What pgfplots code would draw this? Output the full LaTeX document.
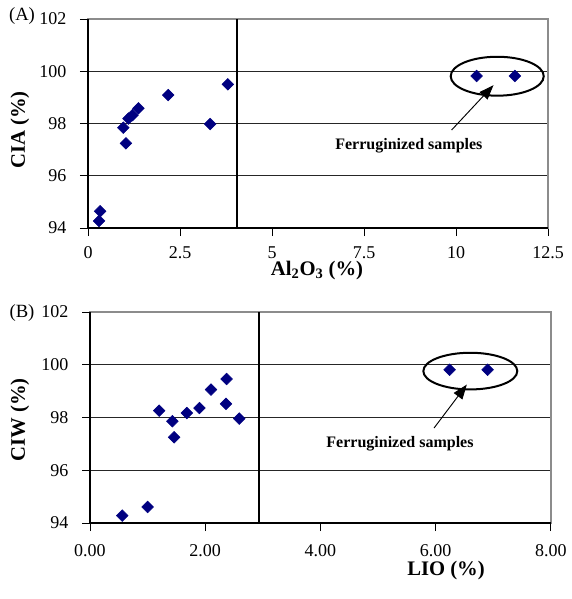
\documentclass[border=0pt]{standalone}
\usepackage{fontspec}
\setmainfont{Liberation Serif}
\usepackage{pgfplots}
\pgfplotsset{compat=1.18}
\usetikzlibrary{arrows.meta}
\definecolor{navy}{RGB}{0,0,128}

\pgfplotsset{
  panel/.style={
    scale only axis,
    anchor=south west,
    ymin=94, ymax=102, ytick={94,96,...,102},
    ymajorgrids, grid style={black!85, line width=0.75pt},
    axis line style={black!45, line width=0.8pt},
    tick align=outside, xtick pos=bottom, ytick pos=left,
    major tick length=6pt,
    tick style={black, line width=0.75pt},
    /pgf/number format/assume math mode=true,
    ticklabel style={font=\fontsize{13.5}{15}\selectfont},
    yticklabel style={anchor=east, inner sep=0pt, xshift=-10pt},
    clip=false,
  },
  pts/.style={only marks, mark=square*, mark size=3.1pt,
    mark options={rotate=45, fill=navy, draw=navy}},
}

\begin{document}
\begin{tikzpicture}
\useasboundingbox (0,0) rectangle (428.25pt,-449.25pt);

% (A) CIA vs Al2O3
\begin{axis}[panel,
  at={(66pt,-171pt)}, width=345pt, height=156.75pt,
  xmin=0, xmax=12.5, xtick={0,2.5,5,7.5,10,12.5},
  xticklabels={0,2.5,5,7.5,10,12.5},
  xticklabel style={anchor=base, inner sep=0pt, yshift=-17pt},
]
\addplot[pts] coordinates {
  (0.33,94.64) (0.30,94.27) (0.96,97.84) (1.03,97.24) (1.10,98.19)
  (1.21,98.32) (1.37,98.58) (2.18,99.09) (3.32,97.98) (3.80,99.50)
  (10.56,99.82) (11.60,99.82)};
\draw[black!45, line width=0.8pt] (rel axis cs:0,1) -- (rel axis cs:1,1) -- (rel axis cs:1,0);
\draw[black, line width=0.8pt] (rel axis cs:0,1) -- (rel axis cs:0,0) -- (rel axis cs:1,0);
\draw[black, line width=1.1pt] (axis cs:4.05,94) -- (axis cs:4.05,102);
\draw[black, line width=1.5pt] (axis cs:11.12,99.81) ellipse [x radius=34.9pt, y radius=14.6pt];
\draw[black, line width=0.7pt, -{Triangle[length=11pt,width=8pt]}] (axis cs:9.88,97.75) -- (axis cs:11.02,99.47);
\node[font=\bfseries\fontsize{12}{14}\selectfont] at (axis cs:8.72,97.15) {Ferruginized samples};
\end{axis}

% (B) CIW vs LIO
\begin{axis}[panel,
  at={(67.5pt,-392.25pt)}, width=345.75pt, height=158.25pt,
  xmin=0, xmax=8, xtick={0,2,4,6,8},
  xticklabels={0.00,2.00,4.00,6.00,8.00},
  xticklabel style={anchor=base, inner sep=0pt, yshift=-19pt},
]
\addplot[pts] coordinates {
  (0.56,94.28) (1.00,94.61) (1.20,98.26) (1.43,97.86) (1.46,97.25)
  (1.68,98.17) (1.90,98.36) (2.10,99.06) (2.37,99.46) (2.36,98.52)
  (2.59,97.96) (6.24,99.81) (6.90,99.81)};
\draw[black!45, line width=0.8pt] (rel axis cs:0,1) -- (rel axis cs:1,1) -- (rel axis cs:1,0);
\draw[black, line width=0.8pt] (rel axis cs:0,1) -- (rel axis cs:0,0) -- (rel axis cs:1,0);
\draw[black, line width=1.1pt] (axis cs:2.93,94) -- (axis cs:2.93,102);
\draw[black, line width=1.5pt] (axis cs:6.6,99.76) ellipse [x radius=35.25pt, y radius=13.75pt];
\draw[black, line width=0.7pt, -{Triangle[length=11pt,width=8pt]}] (axis cs:5.97,97.6) -- (axis cs:6.54,99.25);
\node[font=\bfseries\fontsize{12}{14}\selectfont] at (axis cs:5.38,97.0) {Ferruginized samples};
\end{axis}

\begin{scope}[x=0.75pt, y=-0.75pt, every node/.style={inner sep=0pt}]
\node[font=\fontsize{14}{16}\selectfont] at (22,16) {(A)};
\node[font=\fontsize{14}{16}\selectfont] at (22,313) {(B)};
\node[font=\bfseries\fontsize{15.5}{18}\selectfont, rotate=90] at (20,130) {CIA (\%)};
\node[font=\bfseries\fontsize{15.5}{18}\selectfont, rotate=90] at (20,420) {CIW (\%)};
\node[font=\bfseries\fontsize{15.5}{18}\selectfont] at (317,271) {Al\textsubscript{2}O\textsubscript{3} (\%)};
\node[font=\bfseries\fontsize{15.5}{18}\selectfont] at (446,571) {LIO (\%)};
\end{scope}
\end{tikzpicture}
\end{document}
